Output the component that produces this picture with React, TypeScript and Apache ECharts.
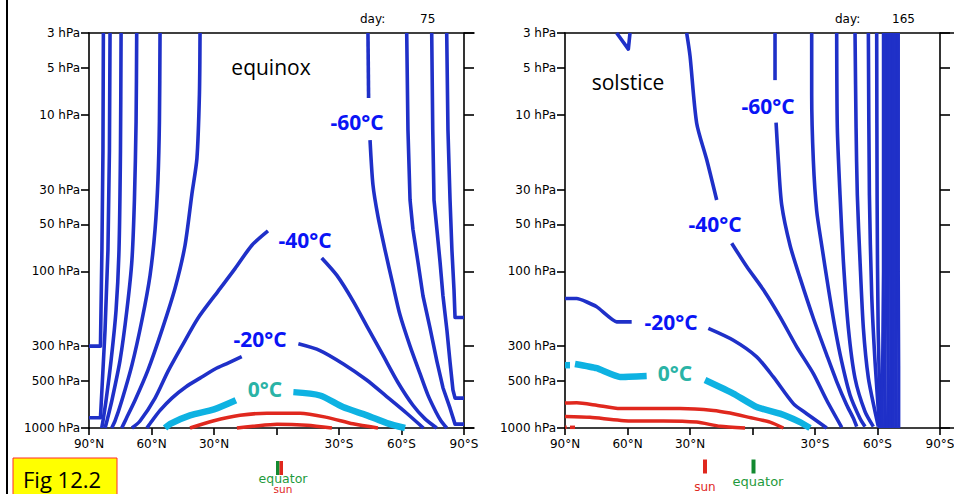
import React, { useEffect, useRef } from "react";
import * as echarts from "echarts";

type Pt = [number, number];

// ---- axes ----
const pTicks = [3, 5, 10, 30, 50, 100, 300, 500, 1000];
const latTicks = [90, 60, 30, 0, -30, -60, -90];

// ---- Equinox (day 75) contours: [latitude (+N / -S), pressure hPa] ----
const eqN1: Pt[] = [[83.1, 3], [83.3, 17], [83.8, 73], [84.5, 300], [90, 300]];
const eqN2: Pt[] = [[79.9, 3], [80.2, 17], [80.9, 73], [82.3, 237], [83.8, 572], [84.5, 860], [90, 860]];
const eqN3: Pt[] = [[74.6, 3], [74.9, 17], [75.6, 73], [77, 176], [79.4, 370], [81.8, 665], [83.3, 902], [83.9, 1000]];
const eqN4: Pt[] = [[67.1, 3], [67.4, 11], [68.2, 35], [69.4, 85], [71.8, 176], [75.1, 370], [79, 665], [81.4, 902], [82.3, 1000]];
const eqN5: Pt[] = [[55.9, 3], [56.2, 11], [56.9, 26], [58.3, 54], [60.7, 106], [64.6, 205], [69.4, 397], [74.2, 665], [77.5, 902], [79.1, 1000]];
const eqN6: Pt[] = [[36.7, 3], [37, 7.4], [38.2, 19], [40.6, 32], [43.9, 68], [48.7, 128], [55, 237], [61.7, 427], [67.9, 665], [72.2, 875], [74.3, 1000]];
const eqM40N: Pt[] = [[4.1, 55], [11.8, 68], [19.9, 96], [28.1, 134], [37.7, 199], [45.4, 300], [52.1, 435], [58.3, 644], [65.5, 902], [69.4, 1000]];
const eqM20N: Pt[] = [[16.7, 350], [23.3, 385], [29.5, 420], [36.7, 480], [43.4, 545], [50.2, 644], [55.9, 772], [59.8, 902], [62.2, 1000]];
const eq0N: Pt[] = [[19.5, 665], [30, 760], [41.5, 830], [51, 940], [53.5, 1000]];
const eq0S: Pt[] = [[-8.1, 590], [-20.9, 620], [-31.9, 735], [-43.4, 830], [-53, 930], [-61.7, 1000]];
const eqM20S: Pt[] = [[-10.5, 290], [-20.9, 320], [-32.1, 390], [-43.3, 494], [-52.9, 630], [-62.5, 805], [-70.5, 1000]];
const eqM40S: Pt[] = [[-21.7, 82], [-29, 106], [-36.7, 154], [-43.9, 230], [-51.1, 343], [-58.3, 512], [-65.5, 716], [-71.3, 875], [-76.9, 1000]];
const eqM60Top: Pt[] = [[-43.9, 3], [-44.2, 7.8]];
const eqM60S: Pt[] = [[-44.9, 14.5], [-46.3, 28], [-48.7, 44.5], [-52.1, 73], [-55.9, 122], [-59.3, 190], [-64.1, 300], [-68.9, 450], [-72.7, 617], [-76.6, 793], [-79, 902], [-81.7, 1000]];
const eqS4: Pt[] = [[-62.5, 3], [-63.1, 12.5], [-64.1, 35], [-65.5, 54], [-67.9, 87], [-70.3, 143], [-73.7, 230], [-77, 375], [-79.9, 553], [-83.3, 747], [-85.7, 945], [-90, 945]];
const eqS5: Pt[] = [[-74.5, 3], [-75, 12.5], [-75.6, 35], [-77, 54], [-78.5, 87], [-79.9, 143], [-81.8, 237], [-83.3, 380], [-84.7, 572], [-85.7, 644], [-90, 644]];
const eqS6: Pt[] = [[-81.7, 3], [-82.3, 12.5], [-83.3, 35], [-84.2, 73], [-85.2, 131], [-85.7, 197], [-90, 197]];
const eqRed1: Pt[] = [[41.5, 1000], [30.5, 902], [17.5, 830], [4.6, 805], [-11.3, 805], [-24.2, 855], [-36.7, 940], [-48.7, 1000]];
const eqRed2: Pt[] = [[19, 1000], [11.3, 975], [-0.2, 945], [-14.6, 960], [-26.6, 1000]];

// ---- Solstice (day 165) contours ----
const soV: Pt[] = [[65.2, 3], [59.6, 3.8], [58.8, 3]];
const soM40a: Pt[] = [[31.6, 3], [30, 4.2], [26.8, 11.3], [22, 19.3], [17.2, 35]];
const soM40b: Pt[] = [[10, 66], [2.8, 93], [-5.2, 131], [-13.2, 195], [-21.2, 303], [-29.2, 449], [-35.6, 665], [-42.8, 990]];
const soM60a: Pt[] = [[-10.8, 3], [-10.8, 6]];
const soM60b: Pt[] = [[-11.3, 11.2], [-12.4, 19.7], [-14, 37.5], [-18, 68], [-22.8, 110], [-29.2, 199], [-35.6, 341], [-40.4, 505], [-45.2, 713], [-48.4, 867], [-50, 980]];
const so4: Pt[] = [[-28.4, 3], [-28.4, 7.4], [-29.2, 19.7], [-30.8, 41], [-33.2, 68], [-36.4, 128], [-39.6, 230], [-42.8, 377], [-46.8, 615], [-51.6, 870], [-54, 980]];
const so5: Pt[] = [[-40.4, 3], [-40.7, 12.1], [-42, 32.5], [-43.6, 86], [-46, 230], [-49.2, 481], [-54, 786], [-58, 980]];
const so6: Pt[] = [[-49.2, 3], [-49.7, 12.1], [-50.3, 32.5], [-51.6, 86], [-53.2, 230], [-55.6, 480], [-58.8, 786], [-60.4, 980]];
const so7: Pt[] = [[-55.6, 3], [-56.1, 32.5], [-57.2, 141], [-58.8, 377], [-61, 1000]];
const so8: Pt[] = [[-59.6, 3], [-59.8, 35], [-60.3, 235], [-61.5, 1000]];
const soCluster: Pt[][] = [
  [[-62.8, 3], [-62.8, 100], [-62.4, 400], [-62.2, 1000]],
  [[-64, 3], [-64, 100], [-63.6, 400], [-63.4, 1000]],
  [[-65.2, 3], [-65.2, 100], [-65, 400], [-64.8, 1000]],
  [[-66.4, 3], [-66.4, 100], [-66.3, 400], [-66.2, 1000]],
  [[-67.6, 3], [-67.6, 100], [-67.6, 400], [-67.6, 1000]],
  [[-68.8, 3], [-68.8, 100], [-68.9, 400], [-69, 1000]],
  [[-70, 3], [-70, 100], [-70.2, 400], [-70.2, 1000]],
];
const soM20a: Pt[] = [[90, 149], [84.4, 149], [74.8, 168], [65.2, 210], [58, 210]];
const soM20b: Pt[] = [[21.2, 231], [9.2, 275], [-2, 351], [-10, 472], [-19.6, 699], [-26, 810], [-35.6, 1000]];
const so0a: Pt[] = [[90, 397], [87.6, 397]];
const so0b: Pt[] = [[85.2, 390], [74.8, 415], [63.6, 472], [50.8, 465]];
const so0c: Pt[] = [[22.8, 494], [9.2, 603], [-2, 735], [-13.2, 810], [-22.8, 917], [-27.6, 1000]];
const soRed1: Pt[] = [[90, 693], [84.4, 690], [74.8, 716], [63.6, 752], [50.8, 752], [34.8, 752], [18.8, 772], [10.8, 803], [1.6, 855], [-8.4, 917], [-14.8, 1000]];
const soRed2: Pt[] = [[90, 845], [78, 855], [58.8, 902], [42.8, 902], [26.8, 917], [15.6, 975], [3.6, 1000]];
const soRed3: Pt[] = [[89.9, 990], [89.2, 990]];
const soRed4: Pt[] = [[87.6, 990], [85.2, 990]];

const BLUE = "#1f30c8";
const CYAN = "#0eb2e2";
const RED = "#e0281e";
const LABEL_BLUE = "#0a14f5";
const LABEL_TEAL = "#2ab3a6";

function line(data: Pt[], panel: number, color: string, width: number, smooth: number | boolean = 0.25) {
  return {
    type: "line",
    xAxisIndex: panel * 2,
    yAxisIndex: panel * 2,
    data,
    showSymbol: false,
    symbol: "none",
    smooth,
    clip: false,
    silent: true,
    z: 3,
    lineStyle: { color, width, join: "round" },
  };
}

const AX = { color: "#000", width: 1.6 };
const axisFont = { color: "#000", fontSize: 12, fontFamily: "DejaVu Sans" };

function yAxes(gridIndex: number, rightOffset: number) {
  return [
    {
      type: "log", gridIndex, position: "left", inverse: true, min: 3, max: 1000, logBase: 10,
      axisLine: { show: true, onZero: false, lineStyle: AX },
      axisTick: { show: true, inside: false, length: 8, customValues: pTicks, lineStyle: AX },
      axisLabel: { show: true, customValues: pTicks, margin: 9, formatter: (v: number) => `${Math.round(v)} hPa`, ...axisFont },
      splitLine: { show: false },
    },
    {
      type: "log", gridIndex, position: "right", offset: rightOffset, inverse: true, min: 3, max: 1000, logBase: 10,
      axisLine: { show: true, onZero: false, lineStyle: AX },
      axisTick: { show: true, inside: false, length: 10, customValues: pTicks, lineStyle: AX },
      axisLabel: { show: false },
      splitLine: { show: false },
    },
  ];
}

function xAxes(gridIndex: number, minLat: number) {
  return [
    {
      type: "value", gridIndex, position: "bottom", inverse: true, min: minLat, max: 90,
      axisLine: { show: true, onZero: false, lineStyle: AX },
      axisTick: { show: true, inside: false, length: 7, customValues: latTicks, lineStyle: AX },
      axisLabel: {
        show: true, customValues: latTicks, margin: 10, ...axisFont,
        formatter: (v: number) => (v === 0 ? "" : v > 0 ? `${v}°N` : `${-v}°S`),
      },
      splitLine: { show: false },
    },
    {
      type: "value", gridIndex, position: "top", inverse: true, min: minLat, max: 90,
      axisLine: { show: true, onZero: false, lineStyle: AX },
      axisTick: { show: false }, axisLabel: { show: false }, splitLine: { show: false },
    },
  ];
}

function txt(text: string, x: number, y: number, color: string, size: number, weight = "normal", family = "Open Sans", align = "center") {
  return {
    type: "text", x, y, z: 100, silent: true,
    style: { text, fill: color, fontSize: size, fontWeight: weight, fontFamily: family, align, verticalAlign: "middle" },
  };
}

export default function App() {
  const ref = useRef<HTMLDivElement>(null);
  useEffect(() => {
    const chart = echarts.init(ref.current!, null, { renderer: "svg" });
    const series: any[] = [];
    const BW = 3.6;
    [eqN1, eqN2].forEach((d) => series.push(line(d, 0, BLUE, BW, false)));
    [eqN3, eqN4, eqN5, eqN6, eqM40N, eqM20N, eqM20S, eqM40S, eqM60Top, eqM60S].forEach((d) => series.push(line(d, 0, BLUE, BW)));
    [eqS4, eqS5, eqS6].forEach((d) => series.push(line(d, 0, BLUE, BW, false)));
    [eq0N, eq0S].forEach((d) => series.push(line(d, 0, CYAN, 6.5)));
    [eqRed1, eqRed2].forEach((d) => series.push(line(d, 0, RED, 3.5)));

    [soV].forEach((d) => series.push(line(d, 1, BLUE, BW, false)));
    [soM40a, soM40b, soM60a, soM60b, so4, so5, so6, so7, so8, soM20b].forEach((d) => series.push(line(d, 1, BLUE, BW)));
    soCluster.forEach((d) => series.push(line(d, 1, BLUE, 3.2, false)));
    series.push(line(soM20a, 1, BLUE, BW, 0.15));
    [so0a, so0b, so0c].forEach((d) => series.push(line(d, 1, CYAN, 6.5, 0.15)));
    [soRed1, soRed2, soRed3, soRed4].forEach((d) => series.push(line(d, 1, RED, 3.5, 0.2)));

    chart.setOption({
      animation: false,
      backgroundColor: "#fff",
      grid: [
        { left: 89, top: 33, width: 385, height: 395, containLabel: false, outerBoundsMode: "none" },
        { left: 565, top: 33, width: 389, height: 395, containLabel: false, outerBoundsMode: "none" },
      ],
      xAxis: [...xAxes(0, -94.8), ...xAxes(1, -96.7)],
      yAxis: [...yAxes(0, -10), ...yAxes(1, -14)],
      series,
      graphic: [
        { type: "line", z: 100, shape: { x1: 7, y1: 0, x2: 7, y2: 494 }, style: { stroke: "#000", lineWidth: 2 } },
        txt("day:", 360, 19, "#000", 12, "normal", "DejaVu Sans", "left"),
        txt("75", 420, 19, "#000", 12, "normal", "DejaVu Sans", "left"),
        txt("day:", 835, 19, "#000", 12, "normal", "DejaVu Sans", "left"),
        txt("165", 892, 19, "#000", 12, "normal", "DejaVu Sans", "left"),
        txt("equinox", 271, 67, "#000", 21),
        txt("solstice", 628, 82, "#000", 21),
        txt("-60°C", 357, 122, LABEL_BLUE, 21, "bold"),
        txt("-40°C", 305, 240, LABEL_BLUE, 21, "bold"),
        txt("-20°C", 260, 339, LABEL_BLUE, 21, "bold"),
        txt("0°C", 265, 389, LABEL_TEAL, 21, "bold"),
        txt("-60°C", 768, 106, LABEL_BLUE, 21, "bold"),
        txt("-40°C", 715, 224, LABEL_BLUE, 21, "bold"),
        txt("-20°C", 671, 322, LABEL_BLUE, 21, "bold"),
        txt("0°C", 675, 373, LABEL_TEAL, 21, "bold"),
        { type: "rect", z: 100, shape: { x: 13, y: 458, width: 104, height: 40 }, style: { fill: "#ffff00", stroke: "#ff2a2a", lineWidth: 1 } },
        txt("Fig 12.2", 23, 479, "#000", 22, "normal", "Open Sans", "left"),
        // equinox markers
        { type: "rect", z: 100, shape: { x: 276, y: 461, width: 3.5, height: 14 }, style: { fill: "#138a30" } },
        { type: "rect", z: 100, shape: { x: 279.5, y: 461, width: 3.5, height: 14 }, style: { fill: "#e0281e" } },
        txt("equator", 283, 478, "#1e9a3c", 12.5, "normal", "DejaVu Sans"),
        txt("sun", 283, 489, "#e0281e", 10.5, "normal", "DejaVu Sans"),
        // solstice markers
        { type: "rect", z: 100, shape: { x: 703, y: 459.5, width: 4, height: 14 }, style: { fill: "#e0281e" } },
        { type: "rect", z: 100, shape: { x: 751.5, y: 459.5, width: 4, height: 14 }, style: { fill: "#138a30" } },
        txt("sun", 705, 487, "#e0281e", 12, "normal", "DejaVu Sans"),
        txt("equator", 758, 481, "#1e9a3c", 13, "normal", "DejaVu Sans"),
      ],
    });
    return () => chart.dispose();
  }, []);
  return <div ref={ref} style={{ position: "absolute", left: 0, top: 0, width: 954, height: 494, background: "#fff" }} />;
}
